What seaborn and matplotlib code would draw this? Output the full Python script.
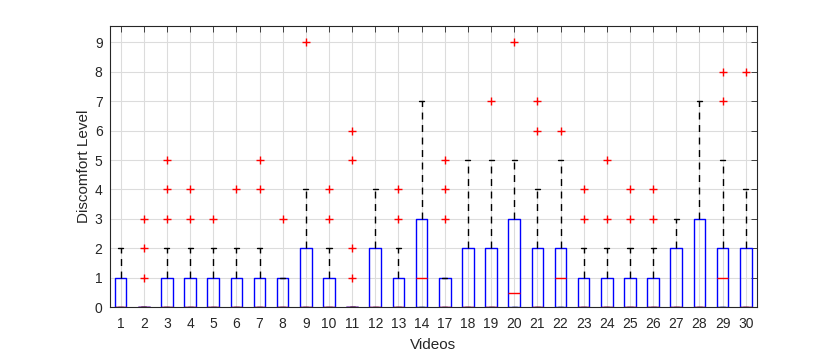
import matplotlib
matplotlib.use("Agg")
import matplotlib.pyplot as plt
import seaborn as sns

videos = ["1","2","3","4","5","6","7","8","9","10","11","12","13","14","17","18","19","20","21","22","23","24","25","26","27","28","29","30"]
q1 =      [0,0,0,0,0,0,0,0,0,0,0,0,0,0,0,0,0,0,0,0,0,0,0,0,0,0,0,0]
median =  [0,0,0,0,0,0,0,0,0,0,0,0,0,1,0,0,0,0.5,0,1,0,0,0,0,0,0,1,0]
q3 =      [1,0,1,1,1,1,1,1,2,1,0,2,1,3,1,2,2,3,2,2,1,1,1,1,2,3,2,2]
whis_lo = [0,0,0,0,0,0,0,0,0,0,0,0,0,0,0,0,0,0,0,0,0,0,0,0,0,0,0,0]
whis_hi = [2,0,2,2,2,2,2,1,4,2,0,4,2,7,1,5,5,5,4,5,2,2,2,2,3,7,5,4]
outliers = [[],[1,2,3],[3,4,5],[3,4],[3],[4],[4,5],[3],[9],[3,4],[1,2,5,6],[],[3,4],[],
            [3,4,5],[],[7],[9],[6,7],[6],[3,4],[3,5],[3,4],[3,4],[],[],[7,8],[8]]

sns.set_style("white")
plt.rcParams["font.family"] = ["Liberation Sans", "DejaVu Sans"]

fig = plt.figure(figsize=(8.38, 3.51), dpi=100)
ax = fig.add_axes([109.5/838, 1-307.3/351, (757.3-109.5)/838, (307.3-26)/351])

stats = []
for i, v in enumerate(videos):
    stats.append(dict(label=v, q1=q1[i], med=median[i], q3=q3[i],
                      whislo=whis_lo[i], whishi=whis_hi[i], fliers=outliers[i]))

ax.bxp(stats, positions=range(1, len(videos)+1), widths=0.5, showfliers=True,
       boxprops=dict(color="#0000ff", linewidth=1.0),
       medianprops=dict(color="#ff0000", linewidth=1.0),
       whiskerprops=dict(color="black", linestyle=(0, (5, 4)), linewidth=1.0),
       capprops=dict(color="black", linewidth=1.0),
       capwidths=0.22,
       flierprops=dict(marker="+", markeredgecolor="#ff0000", markersize=6, linestyle="none"))

ax.set_xlim(0.52, 28.5)
ax.set_ylim(0, 9.55)
ax.set_yticks(range(0, 10))
ax.set_xticks(range(1, len(videos)+1))
ax.set_xticklabels(videos)
ax.grid(True, color="#dcdcdc", linewidth=0.8)
ax.set_axisbelow(True)
ax.tick_params(direction="in", length=4, top=True, right=True, labelsize=10, colors="#262626",
               width=0.6)
ax.tick_params(axis="x", pad=7)
ax.tick_params(axis="y", pad=5)
for s in ax.spines.values():
    s.set_color("#262626")
    s.set_linewidth(0.8)
ax.set_xlabel("Videos", fontsize=11, color="#262626", labelpad=5)
ax.set_ylabel("Discomfort Level", fontsize=11, color="#262626", labelpad=3)

fig.savefig("out.png", dpi=100)
